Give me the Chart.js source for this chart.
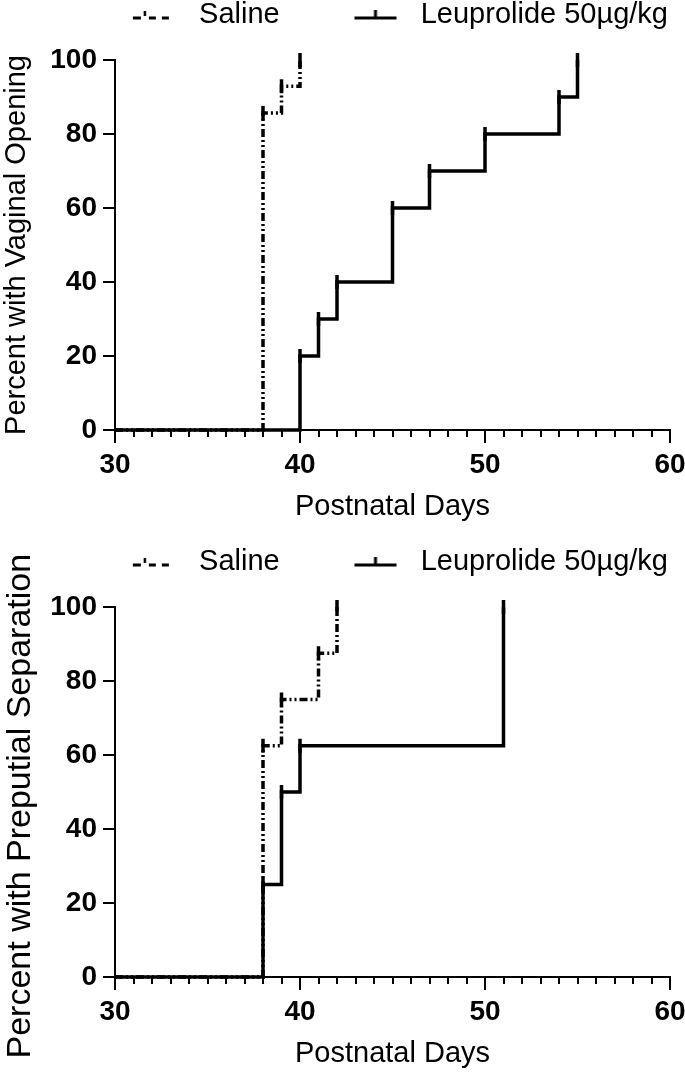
<!DOCTYPE html>
<html>
<head>
<meta charset="utf-8">
<script src="https://cdn.jsdelivr.net/npm/chart.js@4.4.1/dist/chart.umd.min.js"></script>
<style>
  html, body { margin: 0; padding: 0; background: #fff; }
  #wrap { position: relative; width: 685px; height: 1072px; }
  #wrap canvas { position: absolute; left: 0; }
</style>
</head>
<body>
<div id="wrap">
  <canvas id="vaginal" width="685" height="547" style="top:0"></canvas>
  <canvas id="preputial" width="685" height="552" style="top:520px"></canvas>
</div>
<script>
// series labels
const seriesNames = ["Saline", "Leuprolide 50\u00b5g/kg"];

// vaginal opening (top panel): day of event and cumulative percent
const vaginalSalineDays = [30, 38, 39, 40];
const vaginalSalinePct  = [0, 85.7, 92.9, 100];
const vaginalLeuDays    = [30, 40, 41, 42, 45, 47, 50, 54, 55];
const vaginalLeuPct     = [0, 20, 30, 40, 60, 70, 80, 90, 100];

// preputial separation (bottom panel)
const preputialSalineDays = [30, 38, 39, 41, 42];
const preputialSalinePct  = [0, 62.5, 75, 87.5, 100];
const preputialLeuDays    = [30, 38, 39, 40, 51];
const preputialLeuPct     = [0, 25, 50, 62.5, 100];

// axes
const xMin = 30, xMax = 60, xMajorStep = 10, xMinorStep = 1;
const yMin = 0, yMax = 100, yStep = 20;

Chart.defaults.font.family = "'Liberation Sans', Arial, sans-serif";
Chart.defaults.color = "#000";

const lineW = 3.5;
const salineDash = [8, 3, 2, 3, 2, 3];

// little legend glyphs: a line with a tick mark
function makeSymbol(dashed) {
    const c = document.createElement("canvas");
    c.width = 96;
    c.height = 20;
    const g = c.getContext("2d");
    g.strokeStyle = "#000";
    g.lineWidth = 3;
    const x0 = 51, y0 = 13;
    if (dashed) {
        g.beginPath();
        g.moveTo(x0, y0); g.lineTo(x0 + 8, y0);
        g.moveTo(x0 + 16, y0); g.lineTo(x0 + 23, y0);
        g.moveTo(x0 + 29, y0); g.lineTo(x0 + 36, y0);
        g.stroke();
        g.lineWidth = 2.5;
        g.beginPath();
        g.moveTo(x0 + 12, y0 - 7); g.lineTo(x0 + 12, y0 - 2);
        g.stroke();
    } else {
        g.beginPath();
        g.moveTo(x0, y0); g.lineTo(x0 + 42, y0);
        g.moveTo(x0 + 21, y0); g.lineTo(x0 + 21, y0 - 8);
        g.stroke();
    }
    return c;
}
const symbols = [makeSymbol(true), makeSymbol(false)];

function toPoints(days, pct) {
    return days.map((d, i) => ({ x: d, y: pct[i] }));
}

function makeChart(id, yTitle, salinePts, leuPts, lay) {
    const legendSpace = {
        id: "legendSpace",
        beforeInit(chart) {
            const fit = chart.legend.fit;
            chart.legend.fit = function () {
                fit.call(this);
                this.height = 76.5;
            };
        }
    };

    const common = {
        stepped: true,
        fill: false,
        borderColor: "#000",
        borderWidth: lineW,
        pointStyle: "line",
        pointRotation: 90,
        pointRadius: ctx => (ctx.dataIndex === 0 ? 0 : 7),
        pointBorderWidth: lineW,
        pointBorderColor: "#000",
        clip: false
    };

    return new Chart(document.getElementById(id), {
        type: "line",
        data: {
            datasets: [
                Object.assign({ label: seriesNames[0], data: salinePts, borderDash: salineDash }, common),
                Object.assign({ label: seriesNames[1], data: leuPts }, common)
            ]
        },
        options: {
            responsive: false,
            animation: false,
            devicePixelRatio: 1,
            events: [],
            layout: { padding: { top: lay.padTop, left: 0, right: 0, bottom: 0 } },
            plugins: {
                tooltip: { enabled: false },
                legend: {
                    position: "top",
                    align: "end",
                    labels: {
                        usePointStyle: true,
                        pointStyleWidth: 109.5,
                        padding: 17,
                        color: "#000",
                        font: { size: 29 },
                        generateLabels: chart => chart.data.datasets.map((ds, i) => ({
                            text: ds.label,
                            pointStyle: symbols[i],
                            rotation: 0,
                            datasetIndex: i,
                            hidden: false,
                            lineWidth: 0,
                            fontColor: "#000"
                        }))
                    }
                }
            },
            scales: {
                xm: {
                    type: "linear",
                    position: "bottom",
                    weight: 0,
                    min: xMin, max: xMax,
                    ticks: { display: false, stepSize: xMinorStep },
                    grid: { drawOnChartArea: false, tickLength: 7, color: "#000", lineWidth: 2 },
                    border: { display: false },
                    afterFit: s => { s.height = 0; }
                },
                x: {
                    type: "linear",
                    position: "bottom",
                    weight: 1,
                    min: xMin, max: xMax,
                    ticks: { stepSize: xMajorStep, padding: 5, color: "#000", font: { size: 28, weight: "bold" } },
                    grid: { drawOnChartArea: false, tickLength: 13, color: "#000", lineWidth: 2 },
                    border: { color: "#000", width: 2 },
                    title: {
                        display: true,
                        text: "Postnatal Days",
                        color: "#000",
                        font: { size: 29 },
                        padding: { top: 0, bottom: lay.titlePadBottom }
                    },
                    afterFit: s => { s.height = lay.xHeight; s.paddingRight = 15; }
                },
                y: {
                    min: yMin, max: yMax,
                    ticks: { stepSize: yStep, padding: 6, color: "#000", font: { size: 28, weight: "bold" } },
                    grid: { drawOnChartArea: false, tickLength: 12, color: "#000", lineWidth: 2 },
                    border: { color: "#000", width: 2 },
                    title: {
                        display: true,
                        text: yTitle,
                        color: "#000",
                        font: { size: lay.yTitleSize },
                        padding: 0
                    },
                    afterFit: s => { s.width = 115; }
                }
            }
        },
        plugins: [legendSpace]
    });
}

makeChart("vaginal", "Percent with Vaginal Opening",
    toPoints(vaginalSalineDays, vaginalSalinePct),
    toPoints(vaginalLeuDays, vaginalLeuPct),
    { padTop: -16.5, xHeight: 117, titlePadBottom: 22.6, yTitleSize: 29 });

makeChart("preputial", "Percent with Preputial Separation   ",
    toPoints(preputialSalineDays, preputialSalinePct),
    toPoints(preputialLeuDays, preputialLeuPct),
    { padTop: 10.5, xHeight: 95, titlePadBottom: 0.6, yTitleSize: 34 });
</script>
</body>
</html>
